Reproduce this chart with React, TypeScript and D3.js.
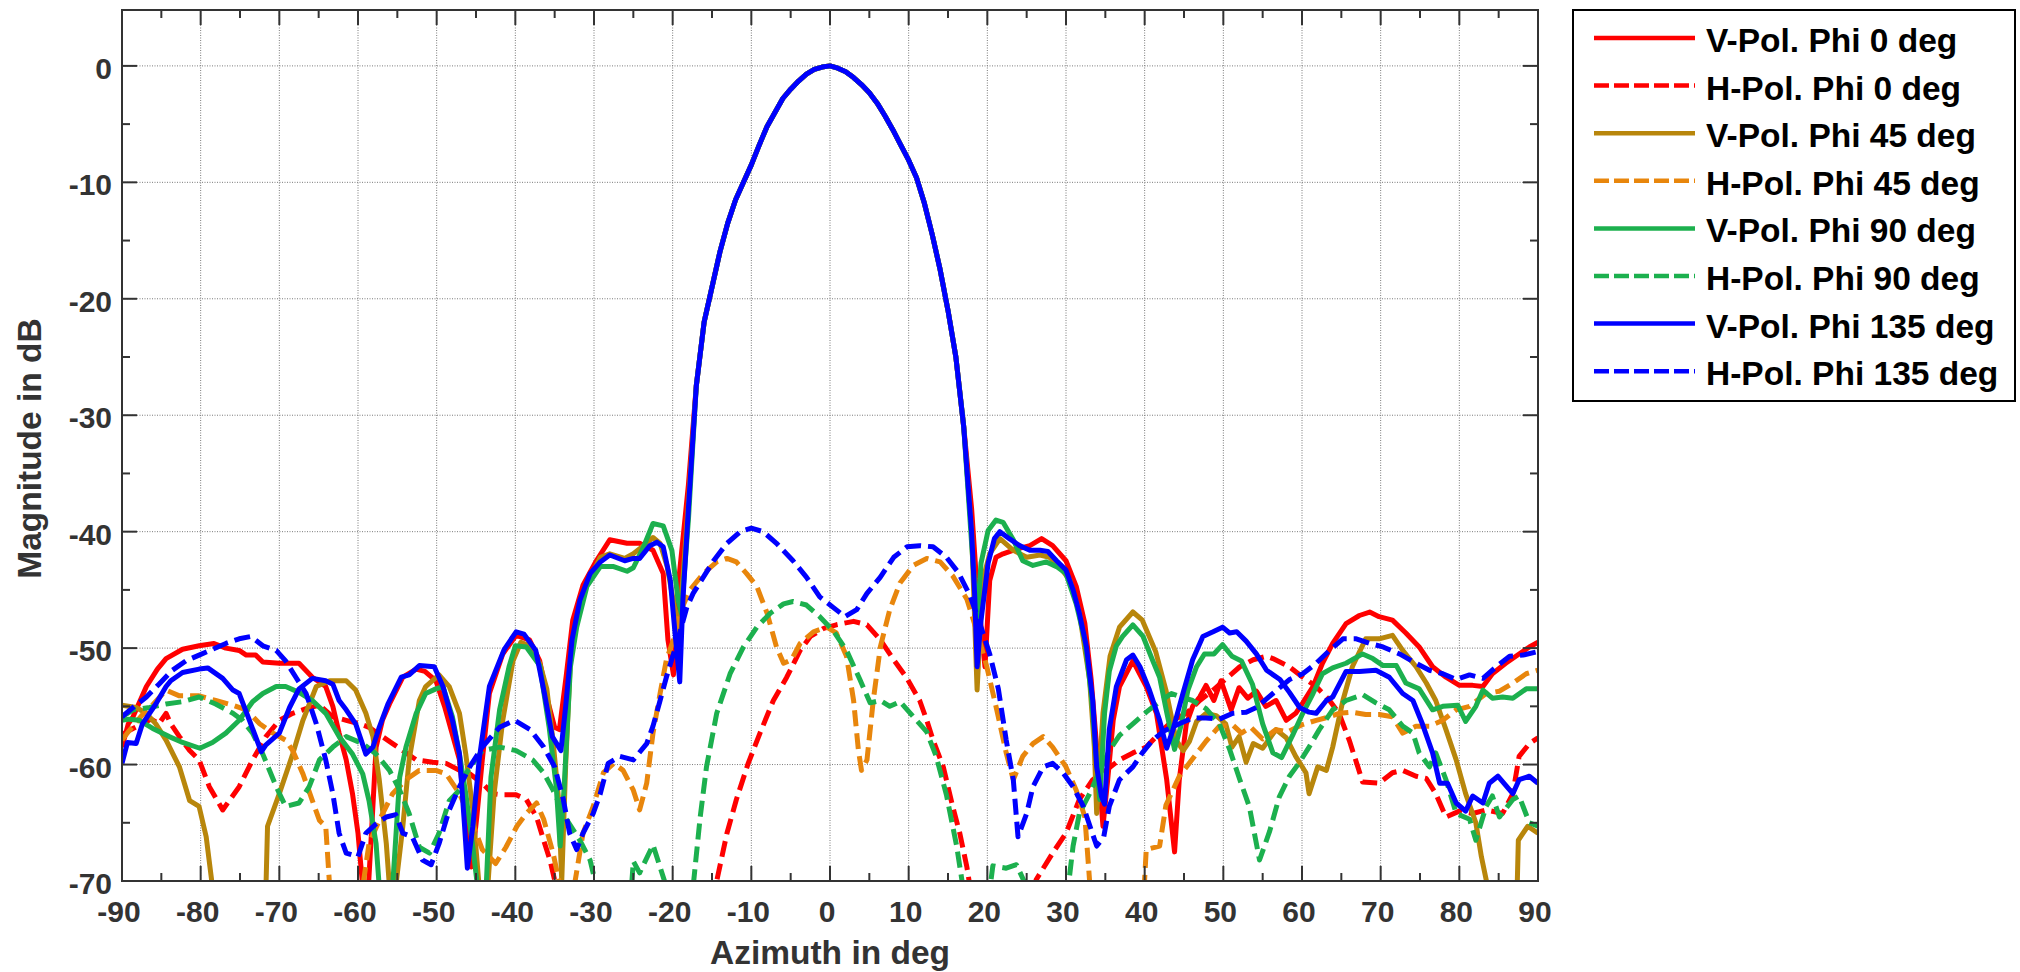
import React from "react";
import * as d3 from "d3";

type Pt = [number, number]; // [azimuth deg, magnitude dB]

// ---- axes ----
const xTicks: number[] = d3.range(-90, 91, 10);
const yTicks: number[] = d3.range(-70, 1, 10);
const xMinorTicks: number[] = d3.range(-85, 90, 10);
const yMinorTicks: number[] = d3.range(-65, 1, 10);

// ---- co-polar main beam (common to all four cuts) ----
const mainLobe: Pt[] = [
  [-17, -27.5], [-16, -22], [-15, -19], [-14, -16], [-13, -13.5], [-12, -11.5],
  [-11, -10], [-10, -8.5], [-9, -6.8], [-8, -5.2], [-7, -4], [-6, -2.8], [-5, -2],
  [-4, -1.3], [-3, -0.7], [-2, -0.3], [-1, -0.1], [0, 0], [1, -0.2], [2, -0.5],
  [3, -1], [4, -1.6], [5, -2.3], [6, -3.2], [7, -4.3], [8, -5.5], [9, -6.8],
  [10, -8.1], [11, -9.6], [12, -11.8], [13, -14.5], [14, -17.5], [15, -21],
  [16, -25], [17, -31],
];

// ---- V-Pol. Phi 0 deg ----
const vPhi0Left: Pt[] = [
  [-90, -58.5], [-89.2, -56.5], [-88.6, -55.9], [-86.9, -53.3], [-85.5, -51.8], [-84.4, -50.9],
  [-82.3, -50.1], [-80.2, -49.8], [-78.3, -49.6], [-76.8, -50], [-75.1, -50.2], [-74.2, -50.6],
  [-73, -50.6], [-72.1, -51.2], [-70, -51.3], [-67.5, -51.3], [-65.8, -52.5], [-64.1, -53.3],
  [-63.2, -55], [-62.4, -57.3], [-61.5, -59.6], [-60.7, -62.5], [-60, -65.9], [-59.4, -70.5],
  [-58.8, -72], [-58.3, -66], [-57.7, -58.5], [-56.9, -56.2], [-56, -54.8], [-54.3, -52.5],
  [-52.6, -51.8], [-51.5, -52], [-50.1, -52.8], [-49, -55], [-47.1, -59.6], [-46.3, -64.8],
  [-45.6, -68.8], [-44.9, -64.5], [-44.2, -59.6], [-43.3, -53.9], [-41.6, -50.5], [-39.9, -48.9],
  [-38.2, -49.3], [-36.9, -51.1], [-35.9, -54.5], [-35, -56.8], [-34.4, -57], [-33.5, -52.2],
  [-32.7, -47.6], [-31.4, -44.6], [-29.7, -42.5], [-28, -40.7], [-25.8, -41], [-24.2, -41],
  [-22.5, -41.6], [-21.2, -43.6], [-20.6, -49.3], [-19.9, -52.3], [-19.2, -44], [-18, -36],
];
const vPhi0Right: Pt[] = [
  [18, -38], [18.6, -44], [19.7, -51.6], [20.3, -44.2], [21.1, -42.2], [22, -41.9], [23.7, -41.5],
  [25.4, -41.2], [26.9, -40.6], [28.3, -41.2], [30, -42.5], [31.3, -44.7], [32.4, -47.9],
  [33.2, -52.7], [33.9, -58.5], [34.7, -65.3], [35.3, -61.3], [36, -56.2], [36.8, -53.3],
  [38.5, -51.1], [40.2, -53.3], [41.5, -55.6], [42.8, -61.3], [43.8, -67.5], [44.4, -61.3],
  [45.3, -56.5], [46.1, -55], [47, -54.2], [47.8, -53.2], [48.8, -54.5], [49.7, -52.8],
  [51, -55.3], [52, -53.4], [53.1, -54.3], [54.2, -53.7], [55.4, -55], [56.7, -54.5],
  [58, -56.2], [59.2, -55.6], [60.1, -54.7], [61.4, -53.3], [62.6, -51.3], [63.9, -49.6],
  [65.6, -47.9], [67.3, -47.2], [68.6, -46.9], [69.8, -47.3], [71.5, -47.6], [73.2, -48.7],
  [74.9, -49.9], [76.6, -51.6], [78.3, -52.5], [80, -53.2], [81.7, -53.2], [83, -53.3],
  [84.2, -52.2], [85.9, -51.3], [87.6, -50.5], [88.9, -49.9], [90, -49.5],
];

// ---- H-Pol. Phi 0 deg ----
const hPhi0: Pt[] = [
  [-90, -57.5], [-89.7, -57.3], [-88.6, -56.9], [-87.4, -56.5], [-86.3, -56.1], [-85.3, -56.5],
  [-84.4, -55.6], [-83.8, -56.5], [-82.7, -57.6], [-81.4, -58.8], [-80.2, -59.6], [-78.9, -61.9],
  [-77.2, -63.9], [-75.1, -61.9], [-73.4, -59.6], [-71.7, -57.6], [-70, -56.2], [-68.3, -55.6],
  [-66.6, -55.2], [-64.9, -54.9], [-63.2, -55.9], [-61.5, -56.2], [-59.8, -56.5], [-58.6, -56.8],
  [-56.9, -57.6], [-55.6, -58.2], [-54.3, -58.8], [-52.6, -59.6], [-50.5, -59.8], [-48.8, -59.9],
  [-47.1, -60.5], [-45.8, -60.8], [-44.2, -61.6], [-42.9, -62.5], [-41.6, -62.6], [-39.9, -62.6],
  [-38.6, -63], [-37.3, -64.5], [-36.4, -66.5], [-35.6, -68.2], [-34.8, -70.5], [-33.5, -76],
  [-16, -76], [-14.4, -70], [-13.1, -65.9], [-11.9, -63], [-10.4, -59.9], [-8.9, -57.3],
  [-7.2, -54.5], [-5.5, -52.5], [-3.8, -50.2], [-2.5, -49], [-0.8, -48.3], [0.8, -48],
  [3, -47.7], [4.7, -48], [6.4, -49.3], [8.1, -51], [9.7, -52.5], [11.4, -54.5], [12.3, -56.2],
  [13.1, -57.9], [14.4, -60.2], [15.6, -63.6], [16.5, -65.9], [17.4, -68.8], [17.8, -70.5],
  [19, -76], [25, -76], [26.2, -69.9], [28.3, -67.6], [30, -65.9], [31.7, -63], [33.4, -61.3],
  [35.1, -60.5], [36.8, -59.6], [38.5, -59], [40.2, -58.5], [41.9, -57.3], [43.6, -56.2],
  [45.3, -55.6], [47, -54.5], [48.7, -53.6], [50.4, -52.6], [52.1, -51.6], [53.8, -51],
  [55.5, -50.7], [56.3, -50.9], [58.4, -51.6], [60.1, -52.5], [61.8, -53.3], [63.5, -54.5],
  [64.7, -55.6], [66, -57.9], [67.1, -60.2], [67.7, -61.5], [69.8, -61.6], [71.5, -60.7],
  [72.8, -60.5], [74.5, -61], [75.8, -61.2], [77, -62.5], [78.3, -64.5], [80, -64],
  [81.7, -64.2], [83.4, -63.9], [85.5, -64.2], [86.8, -62.5], [87.6, -59.3], [88.9, -58.2],
  [90, -57.7],
];

// ---- V-Pol. Phi 45 deg ----
const vPhi45Left: Pt[] = [
  [-90, -54.9], [-88.2, -55.1], [-86.9, -55.6], [-85.7, -56.5], [-84.4, -57.9], [-82.7, -60.2],
  [-81.4, -63.1], [-80.2, -63.6], [-79.3, -66.2], [-78.5, -70.5], [-77.5, -78], [-72.5, -78],
  [-71.7, -70.5], [-71.5, -65.3], [-70, -62.5], [-68.3, -59.1], [-67, -56.2], [-65.3, -53.3],
  [-63.6, -52.8], [-61.5, -52.8], [-60.3, -53.6], [-59, -55.6], [-58.1, -57.6], [-57.3, -61.3],
  [-56.4, -66.8], [-56, -70.5], [-55.6, -74], [-55.2, -70.5], [-54.3, -65.3], [-53.5, -59.6],
  [-52.2, -54.5], [-51.4, -53.3], [-49.7, -52.3], [-48.4, -53.3], [-47.1, -55.6], [-46.3, -59.1],
  [-45.4, -63.9], [-44.6, -70.5], [-44, -74], [-43.5, -70.5], [-42.7, -62.5], [-41.6, -56.2],
  [-40.3, -51.1], [-39.3, -49.5], [-38.2, -49.8], [-36.9, -51.3], [-36, -53.5], [-35.2, -58],
  [-34.5, -63], [-34.1, -70], [-33.6, -60], [-33, -51], [-32.2, -47.5], [-30.9, -44.5],
  [-29.2, -42.2], [-28, -41.9], [-26.1, -42.3], [-25, -41.9], [-23.7, -41.2], [-22.5, -40.5],
  [-21.6, -41], [-20.7, -43], [-19.9, -46], [-19.3, -48.5], [-18.7, -44], [-18, -37.5],
];
const vPhi45Right: Pt[] = [
  [18, -40], [18.7, -53.6], [19.4, -44.2], [20.3, -41.9], [21.6, -40.6], [23.3, -41.6],
  [25, -42.2], [26.7, -42], [27.9, -42.2], [29.2, -43], [30.5, -44.2], [31.7, -47], [33, -52.7],
  [33.6, -58.5], [33.9, -64.2], [34.7, -55.6], [35.6, -50.7], [36.8, -48.2], [38.5, -46.9],
  [39.7, -47.6], [41.4, -50.3], [42.7, -53.6], [44, -57.9], [44.9, -58.8], [45.7, -58],
  [46.6, -56.3], [47.8, -55.6], [49.1, -55.8], [50.3, -56.5], [51.1, -58.5], [52, -57.6],
  [52.9, -59.8], [53.8, -58.2], [55, -58.6], [56.7, -57], [58, -57.7], [59.2, -59.3],
  [60.5, -60.7], [60.9, -62.5], [62, -60.2], [63.1, -60.5], [63.9, -58.5], [65.2, -54.5],
  [66.4, -51.6], [68.1, -49.2], [69.8, -49.2], [71.5, -48.9], [72.8, -50.2], [74.5, -51.6],
  [75.8, -53], [77, -54.5], [78.3, -57], [79.6, -59.6], [80.8, -62.5], [82.1, -65],
  [82.8, -67.9], [83.6, -70.5], [84.5, -76], [86.5, -76], [87.3, -72], [87.5, -66.5],
  [88.7, -65.3], [90, -65.9],
];

// ---- H-Pol. Phi 45 deg ----
const hPhi45: Pt[] = [
  [-90, -57.9], [-89.1, -57.1], [-87.5, -55.8], [-86, -54.8], [-84.4, -53.6], [-82.7, -54.1],
  [-80.2, -54.1], [-78.1, -54.5], [-75.9, -54.9], [-74.2, -55.3], [-72.5, -56.5], [-70.8, -57.3],
  [-69.2, -57.9], [-68.3, -58.8], [-67, -60.8], [-65.8, -63.1], [-64.9, -64.8], [-64.1, -65.3],
  [-63.6, -70.5], [-62.5, -76], [-60.5, -76], [-59.4, -70.5], [-58.6, -66.8], [-57.3, -64.8],
  [-55.6, -62.5], [-53.9, -61.3], [-52.2, -60.5], [-50.1, -60.5], [-48.8, -60.8], [-47.1, -62.5],
  [-45.4, -65.1], [-44.2, -67.3], [-42.5, -68.5], [-41.2, -67.1], [-39.8, -65.3], [-38.6, -64.2],
  [-37.3, -63.3], [-36.4, -64.7], [-35.2, -67.6], [-34.3, -70.5], [-33.3, -76], [-32.6, -72],
  [-32.4, -70], [-31.4, -65.9], [-30.1, -63.6], [-28.8, -60.7], [-27.5, -59.9], [-26.3, -60.5],
  [-25, -62.2], [-24.2, -63.9], [-23.3, -61.6], [-22.5, -57.3], [-21.6, -53.9], [-20.8, -51],
  [-19.9, -49.3], [-19.1, -47], [-17.8, -45], [-16.1, -43.6], [-14.4, -42.6], [-13.1, -42.3],
  [-11.9, -42.6], [-10.6, -43.6], [-9.3, -44.7], [-8, -47], [-6.8, -49.9], [-5.9, -51.3],
  [-4.9, -51], [-3.8, -49.6], [-2.1, -48.6], [-0.4, -48.2], [0.8, -48.7], [2.1, -50.7],
  [3, -54.5], [3.6, -58.7], [4, -60.5], [4.7, -59.6], [5.5, -54.5], [6.4, -49.9], [7.6, -46.7],
  [8.9, -44.4], [10.6, -42.9], [12.3, -42.3], [14, -42.6], [15.6, -43.8], [17.4, -45.8],
  [18.6, -48.4], [19.9, -51.5], [21.2, -55.3], [22.4, -59], [23.3, -61.3], [24.5, -59.3],
  [25.8, -58.2], [27.1, -57.6], [28.3, -58.5], [30, -60.2], [31.3, -62.2], [32.4, -64.5],
  [33, -70], [34, -76], [39.5, -76], [40.2, -67.3], [41.9, -67], [42.7, -63.5], [44.4, -61],
  [46.1, -59.5], [47.8, -58], [49.5, -56.7], [51.2, -56.6], [52.3, -57.3], [53.5, -56.8],
  [55, -57.8], [56.7, -57], [58.2, -57.2], [59.9, -56.6], [61.8, -56.2], [63.5, -55.9],
  [64.7, -55.6], [66.4, -55.5], [68.1, -55.7], [69.8, -55.7], [71.5, -55.9], [72.8, -57.3],
  [74.5, -56.7], [76.2, -56.7], [77.9, -56.2], [79.6, -55.3], [81.3, -55], [83.4, -53.9],
  [85.1, -53.7], [86.8, -53], [88.5, -52.2], [90, -51.9],
];

// ---- V-Pol. Phi 90 deg ----
const vPhi90Left: Pt[] = [
  [-90, -56.2], [-89.1, -56.1], [-87.8, -56.2], [-86.1, -56.9], [-84, -57.6], [-82.3, -58.1],
  [-80.1, -58.6], [-78.5, -58.1], [-76.8, -57.3], [-75.1, -56.2], [-73.4, -54.6], [-72.1, -53.9],
  [-70.4, -53.3], [-69.2, -53.3], [-67.5, -53.8], [-65.8, -54.5], [-64.1, -55.6], [-62.4, -57.6],
  [-60.7, -59.1], [-59.4, -60.8], [-58.6, -63.1], [-57.7, -66.8], [-57.3, -70.5], [-56.5, -76],
  [-55.6, -70.5], [-54.7, -61.1], [-53.9, -58.5], [-52.6, -55.6], [-51.4, -53.9], [-50.1, -53.5],
  [-49.2, -53.3], [-48, -55.9], [-47.1, -59.1], [-46.3, -62.5], [-45.4, -67.1], [-44.8, -70.5],
  [-44.2, -74], [-43.7, -70.5], [-43.1, -61.1], [-42, -55.3], [-40.8, -51.6], [-40, -49.8],
  [-38.6, -49.9], [-36.9, -51.5], [-35.7, -56.8], [-34.8, -61.9], [-34.3, -67], [-33.8, -62],
  [-33, -51.6], [-32.2, -48.2], [-30.9, -44.7], [-29.2, -43], [-27.5, -43], [-25.8, -43.4],
  [-25, -43.1], [-23.7, -41.3], [-22.5, -39.3], [-21.2, -39.5], [-20.1, -41.6], [-19.3, -45.9],
  [-18.9, -47], [-18, -39],
];
const vPhi90Right: Pt[] = [
  [18, -41], [18.7, -47.6], [19.2, -42.7], [20.1, -39.9], [21.1, -39], [22, -39.2], [23.3, -40.7],
  [24.5, -42.5], [25.8, -42.9], [27.5, -42.6], [28.8, -43], [30, -43.6], [31.3, -46.2],
  [32.4, -49.3], [33.2, -53.9], [33.9, -59.9], [34.3, -63], [34.9, -55.6], [35.5, -52],
  [36.4, -49.8], [37.2, -49], [38.5, -48], [39.8, -49], [41.1, -51.2], [41.9, -52.5],
  [42.8, -55.5], [43.8, -58.7], [44.6, -56.7], [45.5, -53.6], [46.6, -51.6], [47.6, -50.5],
  [48.8, -50.5], [49.9, -49.7], [51.1, -50.7], [52.3, -51.1], [53.7, -53.1], [55, -56.5],
  [56.3, -59], [57.4, -59.4], [58.8, -57.5], [60.1, -55.6], [61.4, -53.9], [62.6, -52.2],
  [63.9, -51.7], [65.6, -51.3], [67.7, -50.5], [69, -50.9], [70.3, -51.5], [72, -51.5],
  [73.2, -53], [74.9, -53.5], [76.6, -55.3], [77.9, -55], [79.8, -54.9], [80.8, -56.3],
  [82.1, -55], [83, -53.6], [84.2, -54.3], [85.5, -54.2], [86.8, -54.3], [88.5, -53.5],
  [90, -53.5],
];

// ---- H-Pol. Phi 90 deg ----
const hPhi90: Pt[] = [
  [-90, -55.9], [-88.6, -55.3], [-86.5, -55.1], [-84.4, -54.8], [-82.3, -54.6], [-80.2, -54.2],
  [-78.1, -54.8], [-75.9, -55.6], [-74.7, -56.2], [-73.4, -57.3], [-72.1, -59.1], [-70.4, -61.9],
  [-69.2, -63.6], [-67.5, -63.3], [-66.2, -61.9], [-64.9, -59.6], [-63.2, -58.5], [-61.5, -57.6],
  [-59.4, -58.2], [-57.7, -59.1], [-56, -60.5], [-54.7, -62.2], [-53.5, -64.2], [-52.2, -67.1],
  [-50.9, -67.6], [-49.7, -65.9], [-48.4, -63.1], [-47.1, -62.2], [-46.3, -60.8], [-45.4, -59.9],
  [-44.2, -58.8], [-42, -58.5], [-39.9, -58.8], [-37.8, -59.6], [-36.4, -60.7], [-35.2, -62.2],
  [-33.5, -64.7], [-31.8, -66.5], [-30.5, -68.2], [-29.7, -70.5], [-28.5, -74], [-25.6, -74],
  [-25, -68.3], [-24.2, -69.3], [-22.5, -66.9], [-20.8, -70.5], [-19.5, -76], [-18, -76],
  [-17.4, -70.5], [-16.5, -64.5], [-15.7, -60.2], [-14.4, -55.6], [-12.7, -52.2], [-11, -49.9],
  [-9.3, -48.2], [-7.6, -47], [-5.9, -46.2], [-4.7, -46], [-3, -46.3], [-1.3, -47.3],
  [0.4, -48.5], [2.1, -50.2], [3.8, -52.7], [5.1, -54.7], [6.4, -54.5], [7.6, -55],
  [8.9, -54.6], [10.6, -55.9], [12.3, -57.2], [13.5, -59.3], [14.8, -62.6], [16.1, -67],
  [16.9, -70.5], [18, -75], [19.5, -75], [20.7, -68.7], [22.4, -68.9], [23.7, -68.6],
  [25, -70.5], [26, -75], [29.5, -75], [30.9, -67], [31.7, -64.2], [33, -62.5], [34.3, -60.5],
  [35.5, -58.8], [36.8, -57.5], [38.5, -56.5], [40.2, -55.5], [41.9, -54.6], [43.4, -53.9],
  [44.6, -54.2], [46.1, -54.5], [47.8, -55.2], [49.5, -56.5], [50.8, -58.7], [52.1, -61.3],
  [53.3, -63.6], [54.6, -68.2], [55.9, -65.7], [57.1, -62.8], [58.4, -61], [59.7, -59.8],
  [60.9, -58.5], [62.2, -57], [63.9, -55.3], [65.6, -54.5], [67.7, -54], [69.4, -54.7],
  [71.1, -55.3], [72.8, -56.7], [74.1, -57.3], [74.9, -59], [76.2, -60.2], [77, -59],
  [78.3, -61.3], [79.6, -64.2], [81.3, -64.7], [82.1, -66.5], [83.4, -63.6], [84.2, -62.7],
  [85.1, -64.5], [86.8, -63], [87.6, -62.7], [88.9, -65], [90, -65.3],
];

// ---- V-Pol. Phi 135 deg ----
const vPhi135Left: Pt[] = [
  [-90, -59.9], [-89.3, -58.1], [-88.2, -58.2], [-87.4, -56.5], [-85.7, -54.8], [-84.4, -53.3],
  [-83.8, -52.8], [-82.3, -52.1], [-80.2, -51.8], [-79.1, -51.7], [-77.2, -52.6], [-75.9, -53.6],
  [-75.1, -53.9], [-73.8, -56.2], [-72.3, -58.9], [-71.7, -58.3], [-70, -57.3], [-68.7, -55.1],
  [-67.5, -53.5], [-65.8, -52.6], [-64.1, -52.8], [-63.2, -53.1], [-62.4, -54.5], [-61.5, -55.3],
  [-60.3, -56.5], [-59, -59.1], [-58.1, -58.5], [-57.3, -56.8], [-56.2, -54.8], [-54.5, -52.5],
  [-53.5, -52.3], [-52.2, -51.5], [-50.3, -51.6], [-49.2, -53.3], [-48, -56.2], [-47.1, -59.1],
  [-46.5, -64.8], [-46.1, -68.9], [-45.4, -65.3], [-44.6, -59.6], [-43.3, -53.3], [-41.4, -50.1],
  [-39.9, -48.6], [-38.9, -48.8], [-37.4, -50.2], [-36.3, -53.9], [-35.3, -57.6], [-34.2, -58.8],
  [-33.6, -55], [-32.8, -49.3], [-31.8, -45.9], [-30.5, -43.6], [-29.2, -42.6], [-28, -42],
  [-26.1, -42.5], [-25, -42.3], [-24.2, -42.3], [-22.9, -41.2], [-22, -40.9], [-21.2, -41.3],
  [-20.3, -44.2], [-19.7, -48.7], [-19.1, -52.9], [-18.7, -45.9], [-18, -38],
];
const vPhi135Right: Pt[] = [
  [18, -40], [18.4, -45.6], [18.7, -51.6], [19.2, -47.6], [20.1, -42.7], [20.9, -40.6],
  [21.6, -40], [22.8, -40.6], [24.1, -41.2], [25.4, -41.6], [26.7, -41.6], [27.7, -41.7],
  [28.8, -42.5], [30, -43.3], [30.9, -45], [31.7, -47], [32.6, -49.9], [33.4, -54.5],
  [33.9, -60.2], [34.5, -62.7], [34.9, -63.4], [35.5, -57], [36.4, -53.3], [37.7, -51],
  [38.5, -50.6], [39.4, -51.6], [40.6, -53.6], [41.9, -56.2], [42.8, -58.6], [43.6, -57],
  [44.9, -53.8], [46.1, -51], [47.4, -49], [48.7, -48.6], [49.9, -48.2], [50.8, -48.7],
  [51.7, -48.6], [52.9, -49.4], [54.2, -50.5], [55.5, -51.9], [57.2, -52.7], [58.4, -53.8],
  [59.7, -55.1], [60.9, -55.5], [61.8, -55.6], [63.1, -54.5], [63.9, -54.2], [65.6, -52],
  [67.3, -52], [69.4, -51.9], [71.1, -52.5], [72.8, -53.9], [74.1, -54.5], [75.3, -56.5],
  [76.6, -59], [77.5, -61.6], [78.5, -61.6], [79.6, -63.3], [80.8, -64], [81.7, -62.7],
  [83, -63.3], [83.8, -61.6], [84.9, -61], [86.8, -62.5], [87.6, -61.3], [88.9, -61],
  [90, -61.6],
];

// ---- H-Pol. Phi 135 deg ----
const hPhi135: Pt[] = [
  [-90, -55.9], [-88.6, -55.1], [-86.9, -54.2], [-85.3, -53.1], [-83.6, -51.9], [-81.9, -51.1],
  [-80.2, -50.6], [-78.5, -50.1], [-76.8, -49.6], [-75.1, -49.2], [-73.6, -49], [-72.1, -49.8],
  [-70.4, -50.2], [-69.2, -51.1], [-67.9, -52.5], [-66.6, -53.9], [-65.3, -56.5], [-64.1, -59.6],
  [-63.2, -62.5], [-62.4, -65.9], [-61.5, -67.6], [-60, -67.9], [-59, -65.9], [-57.7, -65.1],
  [-56.4, -64.5], [-55.2, -64.3], [-54.3, -65.9], [-53.1, -66.2], [-51.8, -68.2], [-50.7, -68.6],
  [-49.7, -66.8], [-48.4, -63.9], [-47.1, -61.9], [-45.8, -60.2], [-44.2, -58.5], [-42, -56.8],
  [-40.1, -56.2], [-38.1, -57], [-36.4, -58.5], [-35, -60.2], [-33.9, -63], [-33.1, -65.9],
  [-32.2, -67.3], [-31.4, -65.9], [-30.1, -64.2], [-29.2, -62.5], [-28.2, -59.9], [-26.7, -59.3],
  [-25, -59.6], [-23.3, -58.2], [-22.5, -56.7], [-21.6, -54.5], [-20.8, -52.5], [-19.9, -50.5],
  [-19.1, -48.7], [-18.2, -46.5], [-17.4, -45.3], [-16.1, -43.9], [-14.8, -42.5], [-13.1, -41],
  [-11.4, -40], [-10, -39.7], [-8.5, -40], [-6.8, -41], [-4.7, -42.5], [-3, -43.9], [-1.3, -45.6],
  [0.4, -46.5], [1.9, -47.3], [3.4, -46.7], [4.7, -45.3], [6.4, -43.9], [8.1, -42.2],
  [9.8, -41.3], [11.4, -41.2], [13.1, -41.3], [14.8, -42.2], [16.3, -43.5], [17.8, -45.5],
  [19.1, -48], [20.3, -50.5], [21.4, -53.5], [22.4, -57.9], [23.3, -61.3], [23.9, -66.2],
  [25, -64.2], [25.8, -61.9], [27.1, -60.2], [28.3, -59.9], [29.6, -60.7], [30.9, -61.9],
  [32.2, -63.6], [33.2, -65.6], [33.9, -67], [34.8, -66.2], [35.5, -63.6], [36.8, -61.3],
  [38.5, -60.2], [39.7, -59], [41, -57.9], [42.5, -57.1], [44.4, -56.5], [46.1, -56],
  [47.8, -56], [49.5, -56.1], [51.2, -55.6], [52.9, -55.5], [54.2, -55.1], [56.3, -53.9],
  [58.4, -52.7], [60.1, -52.2], [61.8, -51.3], [63.5, -50.2], [65.2, -49.2], [66.9, -49.2],
  [68.6, -49.6], [70.3, -49.9], [72.4, -50.5], [74.5, -51.3], [76.2, -51.9], [77.9, -52.2],
  [79.6, -52.7], [81.3, -52.3], [83, -52.6], [84.7, -51.6], [86.4, -50.7], [88.1, -50.6],
  [90, -50.3],
];

const seriesLabels = [
  "V-Pol. Phi 0 deg", "H-Pol. Phi 0 deg",
  "V-Pol. Phi 45 deg", "H-Pol. Phi 45 deg",
  "V-Pol. Phi 90 deg", "H-Pol. Phi 90 deg",
  "V-Pol. Phi 135 deg", "H-Pol. Phi 135 deg",
];
const seriesColors = [
  "#ff0000", "#ff0000",
  "#b8860b", "#e8860c",
  "#1cb04e", "#1cb04e",
  "#0000ff", "#0000ff",
];
const seriesData: Pt[][] = [
  [...vPhi0Left, ...mainLobe, ...vPhi0Right], hPhi0,
  [...vPhi45Left, ...mainLobe, ...vPhi45Right], hPhi45,
  [...vPhi90Left, ...mainLobe, ...vPhi90Right], hPhi90,
  [...vPhi135Left, ...mainLobe, ...vPhi135Right], hPhi135,
];

const W = 2020;
const H = 972;
const M = { left: 122, right: 1538, top: 10, bottom: 881 };
const FONT = "'Liberation Sans', Arial, Helvetica, sans-serif";
const AXIS_COLOR = "#333333";

export default function App() {
  const x = d3.scaleLinear().domain([-90, 90]).range([M.left, M.right]);
  const y = d3.scaleLinear().domain([-70, 4.8]).range([M.bottom, M.top]);
  const line = d3
    .line<Pt>()
    .x((d) => x(d[0]))
    .y((d) => y(d[1]));

  const legend = { x: 1573, y: 10, w: 442, h: 391, row0: 38, step: 47.6 };

  return (
    <svg
      width={W}
      height={H}
      viewBox={`0 0 ${W} ${H}`}
      style={{ position: "absolute", left: 0, top: 0, background: "#fff" }}
      fontFamily={FONT}
    >
      <defs>
        <clipPath id="plot-clip">
          <rect x={M.left} y={M.top} width={M.right - M.left} height={M.bottom - M.top} />
        </clipPath>
      </defs>
      <rect x={0} y={0} width={W} height={H} fill="#fff" />

      {/* grid */}
      <g stroke="#7a7a7a" strokeWidth={1} strokeDasharray="1,1.5">
        {xTicks.slice(1, -1).map((t) => (
          <line key={`gx${t}`} x1={x(t)} x2={x(t)} y1={M.top} y2={M.bottom} />
        ))}
        {yTicks.slice(1).map((t) => (
          <line key={`gy${t}`} x1={M.left} x2={M.right} y1={y(t)} y2={y(t)} />
        ))}
      </g>

      {/* curves */}
      <g clipPath="url(#plot-clip)" fill="none" strokeLinejoin="round">
        {seriesData.map((d, i) => (
          <path
            key={seriesLabels[i]}
            d={line(d) ?? ""}
            stroke={seriesColors[i]}
            strokeWidth={5}
            strokeDasharray={i % 2 === 1 ? "16,7" : undefined}
          />
        ))}
      </g>

      {/* ticks */}
      <g stroke={AXIS_COLOR} strokeWidth={2}>
        {xTicks.map((t) => (
          <g key={`tx${t}`}>
            <line x1={x(t)} x2={x(t)} y1={M.bottom} y2={M.bottom - 15} />
            <line x1={x(t)} x2={x(t)} y1={M.top} y2={M.top + 15} />
          </g>
        ))}
        {xMinorTicks.map((t) => (
          <g key={`mx${t}`}>
            <line x1={x(t)} x2={x(t)} y1={M.bottom} y2={M.bottom - 8} />
            <line x1={x(t)} x2={x(t)} y1={M.top} y2={M.top + 8} />
          </g>
        ))}
        {yTicks.map((t) => (
          <g key={`ty${t}`}>
            <line x1={M.left} x2={M.left + 15} y1={y(t)} y2={y(t)} />
            <line x1={M.right} x2={M.right - 15} y1={y(t)} y2={y(t)} />
          </g>
        ))}
        {yMinorTicks.map((t) => (
          <g key={`my${t}`}>
            <line x1={M.left} x2={M.left + 8} y1={y(t)} y2={y(t)} />
            <line x1={M.right} x2={M.right - 8} y1={y(t)} y2={y(t)} />
          </g>
        ))}
      </g>

      {/* axes box */}
      <rect
        x={M.left}
        y={M.top}
        width={M.right - M.left}
        height={M.bottom - M.top}
        fill="none"
        stroke={AXIS_COLOR}
        strokeWidth={2}
      />

      {/* tick labels */}
      <g fill={AXIS_COLOR} fontSize={30} fontWeight="bold">
        {xTicks.map((t) => (
          <text key={`lx${t}`} x={x(t) - 3} y={922} textAnchor="middle">
            {t}
          </text>
        ))}
        {yTicks.map((t) => (
          <text key={`ly${t}`} x={112} y={y(t) + 13} textAnchor="end">
            {t}
          </text>
        ))}
      </g>

      {/* axis titles */}
      <text
        x={(M.left + M.right) / 2}
        y={964}
        textAnchor="middle"
        fontSize={33.5}
        fontWeight="bold"
        fill={AXIS_COLOR}
      >
        Azimuth in deg
      </text>
      <text
        transform={`translate(41, ${(M.top + M.bottom) / 2 + 3}) rotate(-90)`}
        textAnchor="middle"
        fontSize={33.5}
        fontWeight="bold"
        fill={AXIS_COLOR}
      >
        Magnitude in dB
      </text>

      {/* legend */}
      <g>
        <rect
          x={legend.x}
          y={legend.y}
          width={legend.w}
          height={legend.h}
          fill="#fff"
          stroke="#000"
          strokeWidth={2}
        />
        {seriesLabels.map((label, i) => {
          const ly = legend.row0 + i * legend.step;
          return (
            <g key={`lg${label}`}>
              <line
                x1={1594}
                x2={1695}
                y1={ly}
                y2={ly}
                stroke={seriesColors[i]}
                strokeWidth={4.5}
                strokeDasharray={i % 2 === 1 ? "15,5" : undefined}
              />
              <text x={1706} y={ly + 14} fontSize={33.5} fontWeight="bold" fill="#000">
                {label}
              </text>
            </g>
          );
        })}
      </g>
    </svg>
  );
}
